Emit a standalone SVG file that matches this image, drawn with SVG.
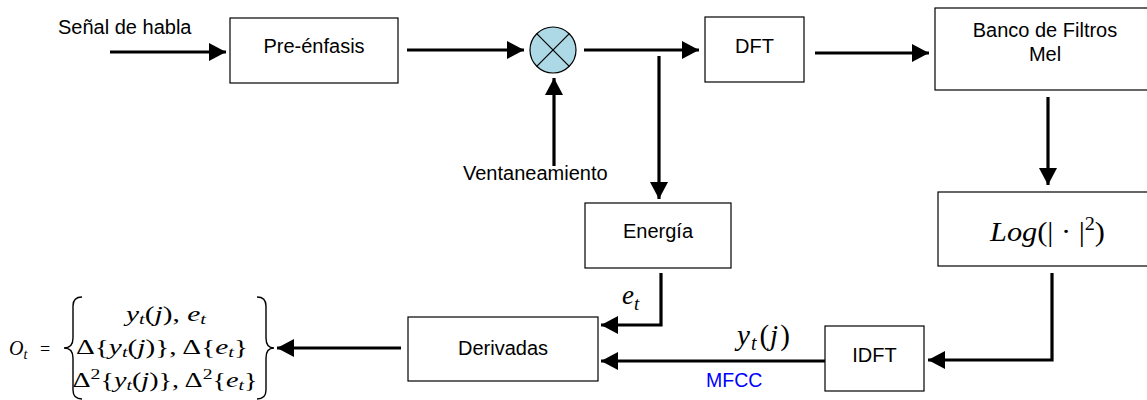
<svg xmlns="http://www.w3.org/2000/svg" width="1147" height="400" viewBox="0 0 1147 400">
<defs>
<style>
.box{fill:#fff;stroke:#000;stroke-width:1.2}
.lbl{font-family:"Liberation Sans",Arial,sans-serif;font-size:20px;fill:#000}
.ctr{text-anchor:middle}
.math{font-family:"Liberation Serif","Times New Roman",serif;fill:#000}
.it{font-style:italic}
.wire{fill:none;stroke:#000;stroke-width:3.2}
.brace{fill:none;stroke:#000;stroke-width:1.4}
</style>
<marker id="ah" markerUnits="userSpaceOnUse" markerWidth="18" markerHeight="18" refX="17" refY="9" orient="auto">
<path d="M0,0 L17,9 L0,18 Z" fill="#000"/>
</marker>
</defs>
<rect width="1147" height="400" fill="#fff"/>

<g id="connectors">
<line class="wire" x1="110" y1="52" x2="226" y2="52" marker-end="url(#ah)"/>
<line class="wire" x1="407" y1="50" x2="524" y2="50" marker-end="url(#ah)"/>
<line class="wire" x1="554" y1="166" x2="554" y2="78" marker-end="url(#ah)"/>
<line class="wire" x1="584" y1="50" x2="699" y2="50" marker-end="url(#ah)"/>
<line class="wire" x1="659" y1="56" x2="659" y2="199" marker-end="url(#ah)"/>
<line class="wire" x1="815" y1="53" x2="929" y2="53" marker-end="url(#ah)"/>
<line class="wire" x1="1048" y1="97" x2="1048" y2="185" marker-end="url(#ah)"/>
<polyline class="wire" points="1052,273 1052,360 928,360" marker-end="url(#ah)"/>
<line class="wire" x1="825" y1="361" x2="601" y2="361" marker-end="url(#ah)"/>
<polyline class="wire" points="661,273 661,325 601,325" marker-end="url(#ah)"/>
<line class="wire" x1="401" y1="348" x2="277" y2="348" marker-end="url(#ah)"/>
</g>

<g id="input">
<text class="lbl" x="58" y="34">Señal de habla</text>
</g>

<g id="preenfasis">
<rect class="box" x="230" y="18" width="168" height="65"/>
<text class="lbl ctr" x="314" y="53">Pre-énfasis</text>
</g>

<g id="multiplicador">
<circle cx="553" cy="50" r="23" fill="#ADD8E6" stroke="#000" stroke-width="1.2"/>
<line x1="536.7" y1="33.7" x2="569.3" y2="66.3" stroke="#000" stroke-width="1.2"/>
<line x1="569.3" y1="33.7" x2="536.7" y2="66.3" stroke="#000" stroke-width="1.2"/>
</g>

<g id="ventaneamiento">
<text class="lbl" x="463" y="180">Ventaneamiento</text>
</g>

<g id="dft">
<rect class="box" x="705" y="17" width="99" height="65"/>
<text class="lbl ctr" x="754.5" y="53">DFT</text>
</g>

<g id="banco">
<rect class="box" x="935" y="8" width="220" height="82"/>
<text class="lbl ctr" x="1045" y="37">Banco de Filtros</text>
<text class="lbl ctr" x="1045" y="61">Mel</text>
</g>

<g id="log">
<rect class="box" x="938" y="192" width="220" height="74"/>
<text class="math" x="990" y="241" font-size="27" textLength="115" lengthAdjust="spacingAndGlyphs"><tspan class="it">Log</tspan>(| · |<tspan font-size="18" dy="-11">2</tspan><tspan dy="11">)</tspan></text>
</g>

<g id="energia">
<rect class="box" x="585" y="203" width="146" height="65"/>
<text class="lbl ctr" x="658" y="238">Energía</text>
<text class="math it" x="622" y="304" font-size="27">e<tspan font-size="19" dy="6">t</tspan></text>
</g>

<g id="idft">
<rect class="box" x="825" y="326" width="99" height="65"/>
<text class="lbl ctr" x="874.5" y="362">IDFT</text>
<text class="math" x="737" y="345" font-size="29"><tspan class="it">y</tspan><tspan class="it" font-size="20" dy="5" dx="1">t</tspan><tspan dy="-5" dx="3">(</tspan><tspan class="it" dx="1">j</tspan><tspan dx="2">)</tspan></text>
<text class="lbl" x="706" y="387" style="fill:#0000FF;font-size:19.5px">MFCC</text>
</g>

<g id="derivadas">
<rect class="box" x="408" y="317" width="190" height="64"/>
<text class="lbl ctr" x="503" y="355">Derivadas</text>
</g>

<g id="salida">
<text class="math" x="9" y="355" font-size="20"><tspan class="it">O</tspan><tspan class="it" font-size="14" dy="4">t</tspan></text>
<text class="math" x="40" y="355" font-size="18">=</text>
<path class="brace" d="M82,297 Q73,297 73,306 L73,338 Q73,348 64,348 Q73,348 73,358 L73,390 Q73,399 82,399"/>
<path class="brace" d="M257,297 Q266,297 266,306 L266,338 Q266,348 274,348 Q266,348 266,358 L266,390 Q266,399 257,399"/>
<text class="math ctr" x="166" y="321" font-size="20" textLength="80" lengthAdjust="spacingAndGlyphs"><tspan class="it">y</tspan><tspan class="it" font-size="14" dy="3">t</tspan><tspan dy="-3">(</tspan><tspan class="it">j</tspan>),  <tspan class="it">e</tspan><tspan class="it" font-size="14" dy="3">t</tspan></text>
<text class="math ctr" x="162" y="354" font-size="20" textLength="172" lengthAdjust="spacingAndGlyphs">Δ{<tspan class="it">y</tspan><tspan class="it" font-size="14" dy="3">t</tspan><tspan dy="-3">(</tspan><tspan class="it">j</tspan>)},  Δ{<tspan class="it">e</tspan><tspan class="it" font-size="14" dy="3">t</tspan><tspan dy="-3">}</tspan></text>
<text class="math ctr" x="165" y="387" font-size="20" textLength="185" lengthAdjust="spacingAndGlyphs">Δ<tspan font-size="14" dy="-8">2</tspan><tspan dy="8">{</tspan><tspan class="it">y</tspan><tspan class="it" font-size="14" dy="3">t</tspan><tspan dy="-3">(</tspan><tspan class="it">j</tspan>)},  Δ<tspan font-size="14" dy="-8">2</tspan><tspan dy="8">{</tspan><tspan class="it">e</tspan><tspan class="it" font-size="14" dy="3">t</tspan><tspan dy="-3">}</tspan></text>
</g>
</svg>
